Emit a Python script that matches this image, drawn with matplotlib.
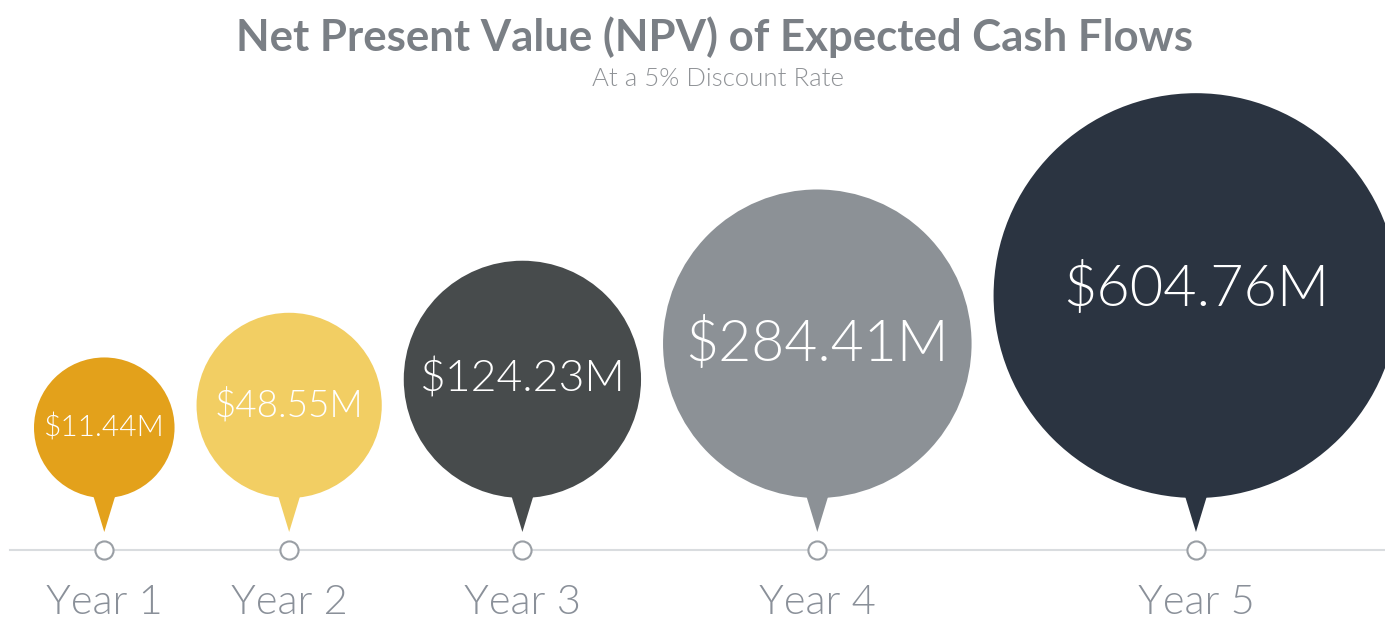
import numpy as np
import matplotlib.pyplot as plt
from matplotlib.patches import Circle, Polygon

# data
years = ['Year 1', 'Year 2', 'Year 3', 'Year 4', 'Year 5']
npv = [11.44, 48.55, 124.23, 284.41, 604.76]   # $M
labels = ['$11.44M', '$48.55M', '$124.23M', '$284.41M', '$604.76M']
colors = ['#E3A11B', '#F2CE63', '#474B4C', '#8C9196', '#2B3441']
label_sizes = [21.5, 26.5, 32, 41, 41.5]

W, H = 1385, 620
fig = plt.figure(figsize=(W / 100, H / 100), dpi=100)
ax = fig.add_axes([0, 0, 1, 1])
ax.set_xlim(0, W)
ax.set_ylim(H, 0)
ax.axis('off')

# bubble radius from sqrt of value
radii = 49.2 + 6.23 * np.sqrt(np.array(npv))

# pack the bubbles side by side
gap = 22
xs = [34 + radii[0]]
for i in range(1, len(radii)):
    xs.append(xs[-1] + radii[i - 1] + radii[i] + gap)

base_y = 550     # timeline
bottom = 498     # bottom of bubbles
tip_y = 532

ax.plot([10, W], [base_y, base_y], color='#D9DCDF', lw=1.5, zorder=1)

for x, r, c, lab, fs in zip(xs, radii, colors, labels, label_sizes):
    cy = bottom - r
    ax.add_patch(Polygon([[x - 14, bottom - 12], [x + 14, bottom - 12], [x, tip_y]],
                         closed=True, color=c, lw=0, zorder=2))
    ax.add_patch(Circle((x, cy), r, color=c, lw=0, zorder=3))
    ty = cy if r < 180 else cy - 7
    ax.text(x, ty, lab, ha='center', va='center', color='white',
            fontsize=fs, family='Lato', weight=300, zorder=4)

ax.scatter(xs, [base_y] * len(xs), s=170, facecolor='white', edgecolor='#9A9FA5',
           linewidth=1.5, zorder=5)

for x, y in zip(xs, years):
    ax.text(x, 603, y, ha='center', va='center', color='#8A9099',
            fontsize=30, family='Lato', weight=300)

ax.text(W / 2 + 22, 37, 'Net Present Value (NPV) of Expected Cash Flows', ha='center',
        va='center', color='#7A7F85', fontsize=31.5, family='Lato', weight='bold')
ax.text(W / 2 + 25, 79, 'At a 5% Discount Rate', ha='center', va='center',
        color='#8F9296', fontsize=18.5, family='Lato', weight=300)

fig.savefig('out.png', dpi=100)
